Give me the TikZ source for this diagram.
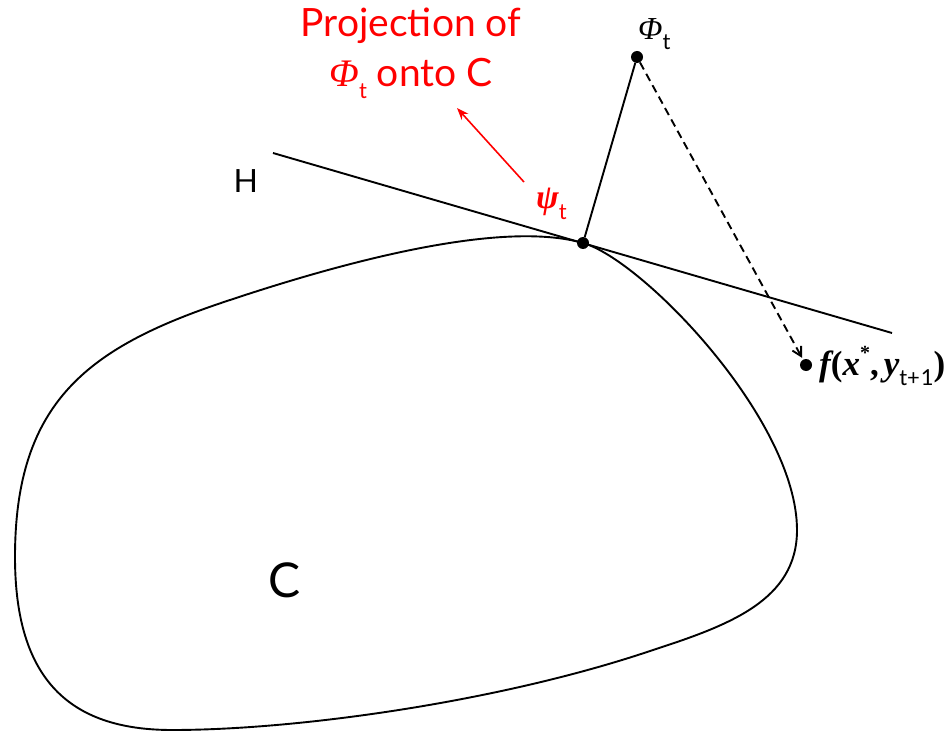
\documentclass[tikz,border=0pt]{standalone}
\usepackage{fontspec}
\setmainfont{Lato}
\newfontfamily\tms{Liberation Serif}
\usetikzlibrary{arrows.meta}
\newcommand{\sub}[1]{\raisebox{-0.3em}{\fontsize{22}{22}\selectfont\normalfont #1}}

\begin{document}
\begin{tikzpicture}[x=1pt,y=-1pt,
  dot/.style={circle,fill=black,inner sep=0pt,minimum size=12pt},
  curve/.style={line width=1.9pt}]
  \useasboundingbox (0,0) rectangle (946,733);
  % convex set C, tangent to H at (583,243)
  \draw[curve] (583,243) .. controls (643,260) and (797,420) .. (797,530)
    .. controls (797,600) and (730,625) .. (653,650)
    .. controls (503,701) and (300,730) .. (172,730)
    .. controls (70,730) and (15,680) .. (15,557)
    .. controls (15,400) and (90,346) .. (230,300)
    .. controls (350,260) and (503,220) .. cycle;
  % hyperplane H
  \coordinate (h1) at (273,153);
  \coordinate (h2) at (892,333);
  \draw[curve] (h1) -- (h2);
  \node[dot] (psi) at (583,243) {};
  \node[dot] (phi) at (637,57) {};
  \node[dot] (fx) at (806,365) {};
  \draw[curve] (psi) -- (phi);
  \draw[curve,dash pattern=on 8pt off 5pt,-{Straight Barb[length=9pt,width=10pt]},shorten >=2pt] (phi) -- (fx);
  % labels
  \node[anchor=base west,font=\fontsize{32}{36}\selectfont] (hlab) at (230,193) {H};
  \node[font=\fontsize{48}{52}\selectfont] (clab) at (285,580) {C};
  \node[anchor=base west,inner sep=0pt,font=\fontsize{32}{36}\selectfont] (philab) at (638,40)
    {{\tms\itshape Φ}\sub{t}};
  \node[anchor=base west,inner sep=0pt,text=red,font=\fontsize{34}{36}\selectfont] (psilab) at (536,209)
    {{\tms\bfseries\itshape ψ}\sub{t}};
  \node[anchor=base west,inner sep=0pt,font=\fontsize{35}{38}\selectfont] (flab) at (819,375)
    {{\tms\bfseries\itshape f}{\tms\bfseries(}{\tms\bfseries\itshape x}\raisebox{0.45em}{\fontsize{20}{20}\selectfont\tms\bfseries *}{\tms\bfseries,}\kern5pt{\tms\bfseries\itshape y}\sub{t+\kern1pt1}{\tms\bfseries)}};
  \node[anchor=base,inner sep=0pt,text=red,align=center,font=\fontsize{39}{50}\selectfont] (proj) at (411,87)
    {Projection of\\{\tms\itshape Φ}\sub{t} onto C};
  \coordinate (a1) at (524,182);
  \coordinate (a2) at (457,108);
  \draw[red,line width=1.6pt,-{Stealth[length=12pt,width=9pt]}] (a1) -- (a2);
\end{tikzpicture}
\end{document}
